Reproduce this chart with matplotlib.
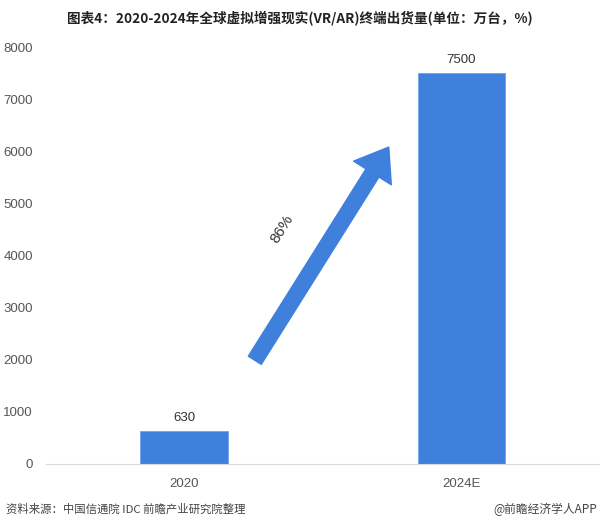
import matplotlib
matplotlib.use("Agg")
import matplotlib.pyplot as plt

plt.rcParams['font.family'] = ['Noto Sans CJK SC', 'DejaVu Sans']

categories = ["2020", "2024E"]
values = [630, 7500]
yticks = [0, 1000, 2000, 3000, 4000, 5000, 6000, 7000, 8000]
growth_label = "86%"
title = "图表4：2020-2024年全球虚拟增强现实(VR/AR)终端出货量(单位：万台，%)"
source = "资料来源：中国信通院 IDC 前瞻产业研究院整理"
brand = "@前瞻经济学人APP"

bar_color = "#3f80dc"
num_font = ['Liberation Sans', 'DejaVu Sans']

fig = plt.figure(figsize=(6, 5.29), dpi=100)
ax = fig.add_axes([45.5/600, (529-464)/529, (600-45.5)/600, (464-47)/529])

x = list(range(len(categories)))
ax.bar(x, values, width=0.315, color=bar_color, edgecolor="#6fa3e8", linewidth=0.6, zorder=2)
for xi, v in zip(x, values):
    ax.text(xi, v + 130, str(v), ha="center", va="bottom", fontsize=9.5,
            color="#333333", family=num_font)

ax.set_xlim(-0.5, 1.5)
ax.set_ylim(0, 8000)
ax.set_yticks(yticks)
ax.set_yticklabels([str(t) for t in yticks], fontsize=9.5, color="#555555", family=num_font)
ax.set_xticks(x)
ax.set_xticklabels(categories, fontsize=9.5, color="#555555", family=num_font)
ax.tick_params(axis="both", length=0)
ax.tick_params(axis="y", pad=9)
ax.tick_params(axis="x", pad=10)
for s in ["top", "right", "left"]:
    ax.spines[s].set_visible(False)
ax.spines["bottom"].set_color("#d9d9d9")
ax.spines["bottom"].set_linewidth(0.8)

ax.annotate("", xy=(0.738, 6080), xytext=(0.255, 1990),
            arrowprops=dict(arrowstyle="simple,head_length=1.1,head_width=1.6,tail_width=0.55",
                            color=bar_color, mutation_scale=20, shrinkA=0, shrinkB=0),
            zorder=3)
ax.text(0.352, 4500, growth_label, rotation=58, ha="center", va="center",
        fontsize=11, color="#333333", family=num_font)

fig.text(0.5, 1 - 19/529, title, ha="center", va="center", fontsize=9.8,
         fontweight="bold", color="#222222")
fig.text(6/600, 1 - 509/529, source, ha="left", va="center", fontsize=8.2, color="#444444")
fig.text(597/600, 1 - 509/529, brand, ha="right", va="center", fontsize=8.5, color="#444444")

fig.savefig("out.png", dpi=100)
